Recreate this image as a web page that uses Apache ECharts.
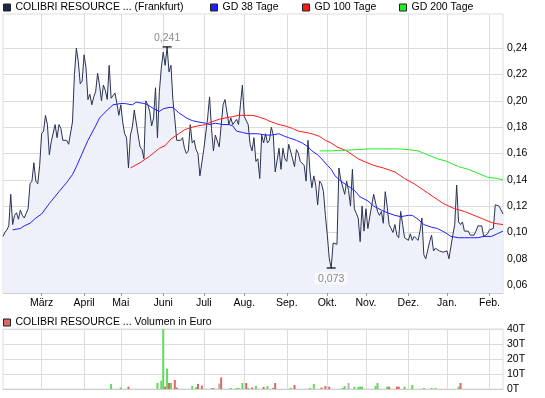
<!DOCTYPE html>
<html>
<head>
<meta charset="utf-8">
<script src="https://cdn.jsdelivr.net/npm/echarts@6/dist/echarts.min.js"></script>
<style>
html,body{margin:0;padding:0;background:#fff;}
#chart{width:545px;height:398px;}
</style>
</head>
<body>
<div id="chart"></div>
<script>
// Daily closing prices (EUR), one per trading day
const prices = [
0.097,0.100,0.102,0.105,0.129,0.106,0.113,0.115,0.110,0.117,
0.113,0.111,0.110,0.118,0.137,0.139,0.153,0.139,0.137,0.151,
0.175,0.177,0.189,0.182,0.159,0.169,0.168,0.182,0.172,0.182,
0.179,0.170,0.170,0.170,0.167,0.166,0.184,0.220,0.240,0.230,
0.213,0.215,0.235,0.225,0.201,0.205,0.197,0.203,0.207,0.221,
0.212,0.200,0.212,0.208,0.201,0.227,0.202,0.201,0.206,0.198,
0.189,0.197,0.184,0.175,0.172,0.149,0.174,0.180,0.193,0.194,
0.174,0.165,0.163,0.156,0.200,0.197,0.192,0.181,0.187,0.210,
0.172,0.207,0.225,0.237,0.227,0.241,0.222,0.227,0.201,0.186,
0.170,0.170,0.170,0.172,0.164,0.160,0.162,0.182,0.168,0.170,
0.163,0.160,0.143,0.143,0.163,0.164,0.187,0.203,0.179,0.162,
0.174,0.174,0.165,0.164,0.197,0.201,0.202,0.182,0.187,0.182,
0.184,0.186,0.182,0.197,0.212,0.188,0.187,0.182,0.167,0.162,
0.172,0.154,0.156,0.141,0.174,0.168,0.175,0.168,0.170,0.180,
0.174,0.146,0.146,0.164,0.148,0.164,0.156,0.154,0.167,0.168,
0.156,0.150,0.163,0.160,0.154,0.154,0.151,0.139,0.170,0.146,
0.134,0.143,0.136,0.121,0.139,0.137,0.131,0.113,0.098,0.080,
0.073,0.092,0.092,0.091,0.149,0.140,0.139,0.129,0.139,0.132,
0.120,0.148,0.118,0.117,0.111,0.093,0.120,0.101,0.118,0.103,
0.112,0.113,0.129,0.129,0.116,0.113,0.116,0.107,0.131,0.120,
0.106,0.103,0.100,0.106,0.098,0.096,0.116,0.106,0.096,0.095,
0.094,0.099,0.094,0.097,0.096,0.094,0.101,0.111,0.083,0.080,
0.081,0.093,0.098,0.086,0.088,0.089,0.086,0.086,0.085,0.086,
0.086,0.080,0.079,0.098,0.106,0.136,0.108,0.106,0.108,0.101,
0.100,0.101,0.098,0.098,0.098,0.101,0.105,0.106,0.105,0.097,
0.098,0.099,0.102,0.102,0.103,0.121,0.121,0.120,0.120,0.114
];

// Moving averages: [trading-day index, value]
const gd38 = [[5,0.102],[9,0.103],[11,0.105],[14,0.107],[17,0.111],[20,0.114],[24,0.122],[29,0.131],[33,0.138],[36,0.144],[38,0.150],[41,0.160],[44,0.170],[48,0.181],[50,0.187],[54,0.193],[57,0.197],[61,0.198],[63,0.198],[67,0.197],[69,0.199],[73,0.198],[75,0.197],[78,0.194],[81,0.192],[83,0.194],[86,0.195],[88,0.195],[91,0.191],[95,0.187],[98,0.185],[101,0.184],[105,0.183],[107,0.182],[110,0.183],[114,0.182],[117,0.182],[119,0.181],[121,0.177],[124,0.176],[127,0.175],[132,0.175],[136,0.174],[139,0.174],[143,0.175],[146,0.173],[148,0.172],[152,0.170],[155,0.168],[158,0.165],[160,0.162],[163,0.159],[165,0.156],[168,0.151],[170,0.148],[172,0.143],[175,0.139],[178,0.136],[182,0.132],[185,0.127],[189,0.124],[192,0.120],[196,0.117],[199,0.115],[203,0.113],[206,0.112],[210,0.113],[212,0.113],[215,0.110],[218,0.106],[222,0.104],[225,0.103],[229,0.100],[232,0.097],[236,0.096],[239,0.096],[242,0.096],[246,0.096],[249,0.097],[253,0.097],[256,0.099],[259,0.101]];
const gd100 = [[66,0.149],[71,0.153],[76,0.158],[81,0.164],[84,0.166],[87,0.171],[91,0.175],[94,0.178],[98,0.180],[101,0.181],[105,0.182],[108,0.184],[112,0.186],[115,0.187],[119,0.188],[122,0.189],[126,0.189],[129,0.189],[132,0.188],[136,0.186],[139,0.184],[143,0.182],[146,0.181],[150,0.179],[153,0.177],[157,0.176],[160,0.175],[164,0.173],[167,0.170],[170,0.168],[173,0.165],[178,0.162],[184,0.156],[187,0.154],[192,0.151],[197,0.149],[203,0.146],[208,0.141],[213,0.137],[218,0.132],[223,0.127],[228,0.122],[234,0.118],[239,0.116],[244,0.113],[249,0.110],[254,0.107],[259,0.106]];
const gd200 = [[164,0.162],[170,0.162],[177,0.1625],[184,0.163],[190,0.1635],[197,0.1635],[204,0.1635],[210,0.163],[215,0.162],[220,0.159],[225,0.156],[230,0.154],[236,0.150],[241,0.148],[246,0.145],[251,0.142],[256,0.141],[259,0.140]];

// Volume in thousand EUR: [trading-day index, value, direction]
const volumes = [[56,3.4,'g'],[61,1,'g'],[65,1.6,'r'],[80,4,'g'],[82,5.5,'g'],[83,40,'g'],[84,1.6,'r'],[85,13.6,'g'],[86,4,'r'],[87,4,'g'],[89,6,'r'],[90,1,'r'],[98,2,'g'],[100,1.2,'g'],[101,3.4,'r'],[103,2.3,'r'],[108,0.7,'n'],[109,0.7,'r'],[112,3.6,'n'],[113,7.7,'r'],[118,0.7,'g'],[121,0.7,'g'],[122,0.7,'g'],[124,4,'g'],[126,4,'r'],[127,0.7,'g'],[129,1,'r'],[131,2,'g'],[135,1.4,'r'],[137,2,'g'],[140,0.7,'r'],[141,4,'r'],[149,0.7,'g'],[151,2.7,'r'],[159,0.7,'g'],[161,3.4,'g'],[165,1,'r'],[167,2,'r'],[169,1.6,'r'],[176,0.7,'g'],[177,2,'g'],[179,4,'n'],[182,1.6,'g'],[184,1.4,'g'],[185,1.6,'g'],[186,1.6,'g'],[193,2,'g'],[194,4,'g'],[199,1.6,'g'],[200,1.6,'r'],[204,1.6,'r'],[205,1.6,'r'],[208,1.6,'g'],[212,2.7,'g'],[218,0.7,'g'],[222,0.7,'g'],[224,0.7,'g'],[236,1.6,'g'],[237,4,'r']];

// Month tick positions (trading-day index) and labels
const monthStarts = [20,42,61,83,104,125,147,168,188,210,230,252];
const monthNames = ['März','April','Mai','Juni','Juli','Aug.','Sep.','Okt.','Nov.','Dez.','Jan.','Feb.'];
const priceTicks = [0.06,0.08,0.10,0.12,0.14,0.16,0.18,0.20,0.22,0.24];

const NAME_PRICE = 'COLIBRI RESOURCE ... (Frankfurt)';
const NAME_38 = 'GD 38 Tage';
const NAME_100 = 'GD 100 Tage';
const NAME_200 = 'GD 200 Tage';
const NAME_VOL = 'COLIBRI RESOURCE ... Volumen in Euro';

const cats = prices.map((_, i) => String(i));
const isMonth = (idx) => monthStarts.indexOf(idx) >= 0;
const volColors = {g:'#5fdc5a', r:'#e06666', n:'#b4b4b4'};
const fmtComma = (v, d) => v.toFixed(d).replace('.', ',');
const FONT = 'Liberation Sans, Arial, sans-serif';
const GRID_COLOR = '#dcdcdc';

function legendItem(name, left, top, fontSize) {
  return {
    data: [name], left: left, top: top, padding: 0, itemWidth: 7, itemHeight: 7,
    icon: 'rect', selectedMode: false,
    itemStyle: {borderColor: '#222', borderWidth: 1},
    textStyle: {fontSize: fontSize, color: '#000', fontFamily: FONT, padding: [1,0,0,0]}
  };
}

const chart = echarts.init(document.getElementById('chart'), null, {renderer:'canvas'});
chart.setOption({
  animation: false,
  backgroundColor: '#fff',
  textStyle: {fontFamily: FONT},
  legend: [
    legendItem(NAME_PRICE, 3, 2, 10.5),
    legendItem(NAME_38, 210, 2, 10.5),
    legendItem(NAME_100, 302, 2, 10.5),
    legendItem(NAME_200, 399, 2, 10.5),
    legendItem(NAME_VOL, 3, 317, 10.5)
  ],
  grid: [
    {left: 3, right: 42, top: 14, height: 279, show: true, borderColor: GRID_COLOR, borderWidth: 1, backgroundColor: '#fff'},
    {left: 3, right: 42, top: 329, height: 60, show: true, borderColor: GRID_COLOR, borderWidth: 1, backgroundColor: '#fff'}
  ],
  xAxis: [
    {
      type: 'category', gridIndex: 0, data: cats, boundaryGap: false,
      axisLine: {show: true, lineStyle: {color: '#cfcfcf'}},
      axisTick: {show: true, length: 3, interval: (i) => isMonth(i), lineStyle: {color: '#999'}},
      axisLabel: {
        show: true, interval: (i) => isMonth(i), hideOverlap: false,
        formatter: (v) => monthNames[monthStarts.indexOf(Number(v))] || '',
        color: '#000', fontSize: 10.5, margin: 5
      },
      splitLine: {show: true, interval: (i) => isMonth(i), lineStyle: {color: GRID_COLOR, width: 1}}
    },
    {
      type: 'category', gridIndex: 1, data: cats, boundaryGap: false,
      axisLine: {show: true, lineStyle: {color: '#cfcfcf'}},
      axisTick: {show: false},
      axisLabel: {show: false},
      splitLine: {show: true, interval: (i) => isMonth(i), lineStyle: {color: GRID_COLOR, width: 1}}
    }
  ],
  yAxis: [
    {
      type: 'value', gridIndex: 0, position: 'right', min: 0.054, max: 0.266,
      axisLine: {show: false},
      axisTick: {show: false, customValues: priceTicks},
      axisLabel: {customValues: priceTicks, formatter: (v) => fmtComma(v, 2), color: '#000', fontSize: 10.5, margin: 4},
      splitLine: {show: true, lineStyle: {color: GRID_COLOR, width: 1}}
    },
    {
      type: 'value', gridIndex: 1, position: 'right', min: 0, max: 40, interval: 10,
      axisLine: {show: false},
      axisTick: {show: false},
      axisLabel: {formatter: (v) => v + 'T', color: '#000', fontSize: 10.5, margin: 4},
      splitLine: {show: true, lineStyle: {color: GRID_COLOR, width: 1}}
    }
  ],
  series: [
    {
      name: NAME_PRICE, type: 'line', xAxisIndex: 0, yAxisIndex: 0,
      data: prices, symbol: 'none', color: '#1e2746',
      lineStyle: {color: '#2a3252', width: 1},
      areaStyle: {color: '#eef1fa', opacity: 1, origin: 'start'},
      z: 2,
      markPoint: {
        symbol: 'rect', symbolSize: [9, 1.2],
        itemStyle: {color: '#000'},
        label: {show: true, color: '#8a8a8a', fontSize: 10.5, fontFamily: FONT,
                formatter: (p) => fmtComma(p.value, 3)},
        data: [
          {type: 'max', label: {position: 'top', distance: 3}},
          {type: 'min', label: {position: 'bottom', distance: 4, backgroundColor: 'rgba(250,250,252,0.85)', padding: [1, 3, 0, 3]}}
        ]
      }
    },
    {name: NAME_38, type: 'line', xAxisIndex: 0, yAxisIndex: 0, data: gd38, symbol: 'none', color: '#2020ff', lineStyle: {width: 1}, z: 3},
    {name: NAME_100, type: 'line', xAxisIndex: 0, yAxisIndex: 0, data: gd100, symbol: 'none', color: '#ff1a1a', lineStyle: {width: 1}, z: 3},
    {name: NAME_200, type: 'line', xAxisIndex: 0, yAxisIndex: 0, data: gd200, symbol: 'none', color: '#22ee22', lineStyle: {width: 1}, z: 3},
    {
      name: NAME_VOL, type: 'bar', xAxisIndex: 1, yAxisIndex: 1, barWidth: 2, color: '#d96a6a',
      data: volumes.map(v => ({value: [v[0], v[1]], itemStyle: {color: volColors[v[2]]}}))
    }
  ]
});
</script>
</body>
</html>
